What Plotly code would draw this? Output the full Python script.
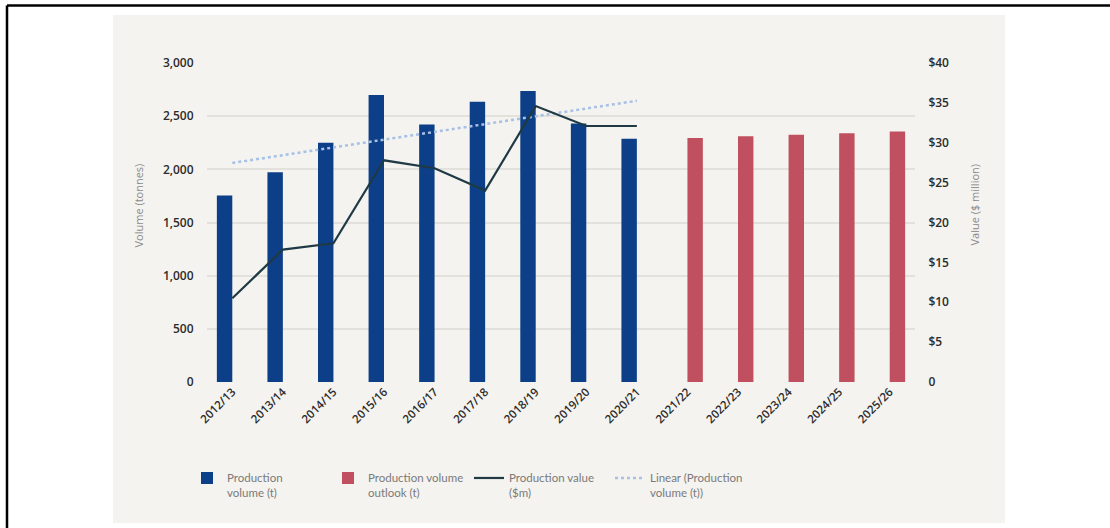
import plotly.graph_objects as go

# ---------------- data ----------------
categories = ["2012/13", "2013/14", "2014/15", "2015/16", "2016/17", "2017/18",
              "2018/19", "2019/20", "2020/21", "2021/22", "2022/23", "2023/24",
              "2024/25", "2025/26"]
production_volume = [1755, 1972, 2249, 2698, 2422, 2636, 2736, 2431, 2287,
                     None, None, None, None, None]
volume_outlook = [None] * 9 + [2295, 2310, 2325, 2340, 2355]
production_value = [10.5, 16.6, 17.4, 27.8, 26.8, 24.0, 34.6, 32.1, 32.1,
                    None, None, None, None, None]
trend_categories = ["2012/13", "2020/21"]
trend_values = [2060, 2645]

left_ticks = [0, 500, 1000, 1500, 2000, 2500, 3000]
right_ticks = [0, 5, 10, 15, 20, 25, 30, 35, 40]
right_tick_labels = ["0", "$5", "$10", "$15", "$20", "$25", "$30", "$35", "$40"]

# ---------------- layout helpers ----------------
W, H = 1110, 528
L, R, T, B = 207, 195, 63, 146
PW, PH = W - L - R, H - T - B


def px(x):
    return (x - L) / PW


def py(y):
    return (H - B - y) / PH


BLUE = "#0c3f87"
RED = "#c0505f"
DARK = "#1f3a44"
TREND = "#a7c0e6"
PANEL = "#f4f3ef"
GRID = "#e2e1dc"
FONT = "Open Sans"

fig = go.Figure()
fig.add_trace(go.Bar(x=categories, y=production_volume, name="Production<br>volume (t)",
                     marker_color=BLUE, marker_line_width=0))
fig.add_trace(go.Bar(x=categories, y=volume_outlook, name="Production volume<br>outlook (t)",
                     marker_color=RED, marker_line_width=0))
fig.add_trace(go.Scatter(x=categories, y=production_value, name="Production value<br>($m)",
                         mode="lines", line=dict(color=DARK, width=2.2), yaxis="y2"))
fig.add_trace(go.Scatter(x=trend_categories, y=trend_values, name="Linear (Production<br>volume (t))",
                         mode="lines", line=dict(color=TREND, width=2.5, dash="dot")))

tickfont = dict(family=FONT, size=12, color="#2b2b2b", weight=600)

fig.update_layout(
    width=W, height=H,
    margin=dict(l=L, r=R, t=T, b=B),
    paper_bgcolor="white",
    plot_bgcolor=PANEL,
    barmode="group",
    bargap=0.39,
    bargroupgap=0,
    font=dict(family=FONT, color="#777"),
    xaxis=dict(type="category", categoryorder="array", categoryarray=categories,
               range=[-0.5, 13.5], tickangle=-45, tickfont=dict(family=FONT, size=11.5,
                                                                  color="#2b2b2b", weight=600),
               showgrid=False, showline=False, zeroline=False, ticks=""),
    yaxis=dict(range=[0, 3000], tickvals=left_ticks, tickformat=",", tickfont=tickfont,
               showgrid=True, gridcolor=GRID, gridwidth=1.5, zeroline=False, showline=False,
               ticks="outside", ticklen=10, tickcolor="rgba(0,0,0,0)"),
    yaxis2=dict(range=[0, 40], tickvals=right_ticks, ticktext=right_tick_labels,
                overlaying="y", side="right", tickfont=tickfont, showgrid=False,
                zeroline=False, showline=False, ticks="outside", ticklen=10,
                tickcolor="rgba(0,0,0,0)"),
    showlegend=True,
    legend=dict(orientation="h", x=px(187), y=py(464), xanchor="left", yanchor="top",
                entrywidth=96, entrywidthmode="pixels", bgcolor="rgba(0,0,0,0)",
                font=dict(family="Lato", size=11.5, color="#7a7a7a"), traceorder="normal",
                valign="top"),
    shapes=[
        dict(type="rect", xref="paper", yref="paper", x0=px(113), x1=px(1005),
             y0=py(523), y1=py(15), fillcolor=PANEL, line_width=0, layer="below"),
        dict(type="line", xref="paper", yref="paper", x0=px(7), x1=px(1110),
             y0=py(5.5), y1=py(5.5), line=dict(color="black", width=2.5)),
        dict(type="line", xref="paper", yref="paper", x0=px(7), x1=px(7),
             y0=py(5.5), y1=py(528), line=dict(color="black", width=2.5)),
    ],
    annotations=[
        dict(text="Volume (tonnes)", xref="paper", yref="paper", x=px(128), y=py(206),
             textangle=-90, showarrow=False, font=dict(family=FONT, size=11, color="#8a8a8a")),
        dict(text="Value ($ million)", xref="paper", yref="paper", x=px(983), y=py(204),
             textangle=-90, showarrow=False, font=dict(family=FONT, size=11, color="#8a8a8a")),
    ],
)

fig.write_html("out.html")
